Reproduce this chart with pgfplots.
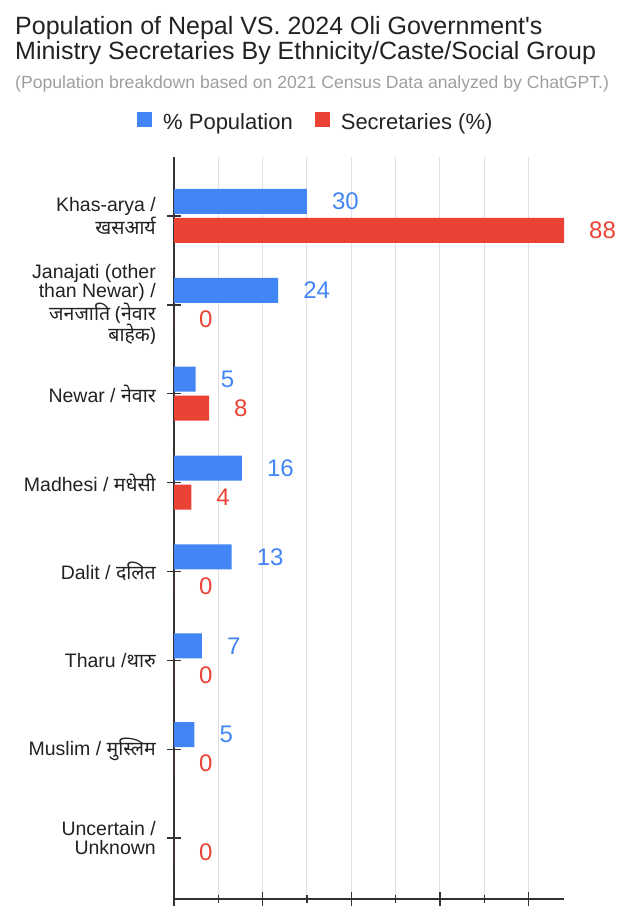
\documentclass[border=0pt]{standalone}
\usepackage{pgfplots}
\pgfplotsset{compat=1.18}
\usepackage{fontspec}
\setmainfont{Liberation Sans}
\newfontfamily\deva[Script=Devanagari]{Noto Sans}
\newcommand{\dv}[1]{{\deva #1}}
\definecolor{gblue}{HTML}{4285F4}
\definecolor{gred}{HTML}{EA4335}
\definecolor{axisgray}{HTML}{333333}
\definecolor{gridgray}{HTML}{E0E0E0}
\definecolor{subgray}{HTML}{9E9E9E}
\definecolor{txt}{HTML}{222222}
\pgfplotsset{
  sqblue/.style={legend image code/.code={\fill[gblue] (0pt,-5pt) rectangle (15pt,10pt);}},
  sqred/.style={legend image code/.code={\fill[gred] (0pt,-5pt) rectangle (15pt,10pt);}},
}
\begin{document}
\begin{tikzpicture}
\useasboundingbox (0pt,0pt) rectangle (623pt,912pt);
\node[anchor=base west, inner sep=0pt, text=txt, font=\fontsize{25}{26}\selectfont] at (15pt,877.5pt) {Population of Nepal VS. 2024 Oli Government\textquotesingle s};
\node[anchor=base west, inner sep=0pt, text=txt, font=\fontsize{25}{26}\selectfont] at (15pt,852pt) {Ministry Secretaries By Ethnicity/Caste/Social Group};
\node[anchor=base west, inner sep=0pt, text=subgray, font=\fontsize{17.6}{18}\selectfont] at (15pt,823.5pt) {(Population breakdown based on 2021 Census Data analyzed by ChatGPT.)};
\begin{axis}[
  at={(174pt,13pt)}, anchor=south west,
  scale only axis, width=390pt, height=742pt,
  xmin=0, xmax=88,
  ymin=-0.686, ymax=7.664,
  ytick={0,...,7},
  yticklabels={
    {Uncertain /\\Unknown},
    {Muslim / \dv{मुस्लिम}},
    {Tharu /\dv{थारु}},
    {Dalit / \dv{दलित}},
    {Madhesi / \dv{मधेसी}},
    {Newar / \dv{नेवार}},
    {Janajati (other\\than Newar) /\\\dv{जनजाति (नेवार}\\\dv{बाहेक)}},
    {Khas-arya /\\\dv{खसआर्य}}},
  yticklabel style={font=\fontsize{19.5}{19}\selectfont, align=right, text=txt, inner sep=0pt, xshift=-11pt},
  xtick={0,20,40,60,80}, minor xtick={10,30,50,70},
  xticklabels={},
  xmajorgrids, xminorgrids,
  major grid style={gridgray, line width=1pt},
  minor grid style={gridgray, line width=1pt},
  axis x line*=bottom, axis y line*=left,
  axis line style={axisgray, line width=1.3pt, -},
  tick style={axisgray, line width=1.3pt},
  tick align=center,
  major tick length=14pt, minor tick length=8pt,
  point meta=explicit symbolic,
  nodes near coords,
  every node near coord/.append style={font=\fontsize{24}{24}\selectfont, inner sep=0pt, anchor=west, xshift=25pt},
  legend columns=2,
  legend cell align=left,
  legend style={at={(-0.0949,1.0472)}, anchor=west, draw=none, fill=none, inner sep=0pt,
    font=\fontsize{22}{22}\selectfont, text=txt,
    /tikz/every odd column/.append style={column sep=9pt},
    /tikz/every even column/.append style={column sep=20pt}},
]
\addplot[xbar, bar width=25pt, bar shift=14.5pt, fill=gblue, draw=none, sqblue,
  every node near coord/.append style={text=gblue, anchor=west, yshift=14.5pt}]
  coordinates {(30,7) [30] (23.5,6) [24] (4.9,5) [5] (15.3,4) [16] (13,3) [13] (6.3,2) [7] (4.6,1) [5]};
\addlegendentry{\% Population}
\addplot[xbar, bar width=25pt, bar shift=-14.5pt, fill=gred, draw=none, sqred,
  every node near coord/.append style={text=gred, anchor=west, yshift=-14.5pt}]
  coordinates {(88,7) [88] (0,6) [0] (7.9,5) [8] (3.9,4) [4] (0,3) [0] (0,2) [0] (0,1) [0] (0,0) [0]};
\addlegendentry{Secretaries (\%)}
\end{axis}
\end{tikzpicture}
\end{document}
